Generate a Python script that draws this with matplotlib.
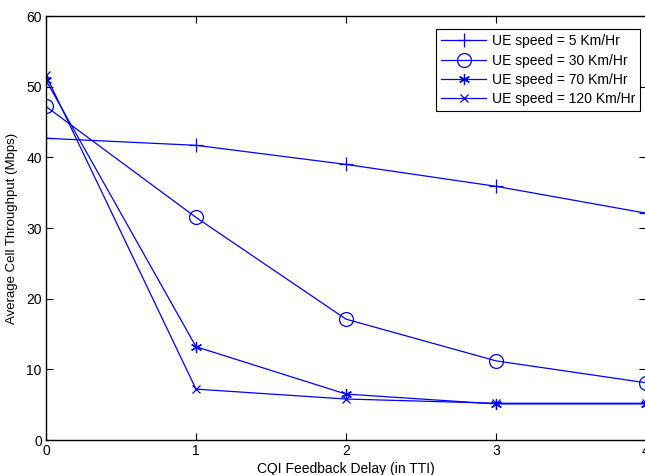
import matplotlib
matplotlib.use("Agg")
import matplotlib.pyplot as plt

plt.rcParams['font.family'] = ['Liberation Sans', 'DejaVu Sans']

delay = [0, 1, 2, 3, 4]
speed_5 = [42.7, 41.7, 39.0, 35.9, 32.1]
speed_30 = [47.2, 31.5, 17.1, 11.2, 8.1]
speed_70 = [50.9, 13.2, 6.5, 5.1, 5.1]
speed_120 = [51.6, 7.2, 5.8, 5.2, 5.2]
labels = ['UE speed = 5 Km/Hr', 'UE speed = 30 Km/Hr',
          'UE speed = 70 Km/Hr', 'UE speed = 120 Km/Hr']
xticks = [0, 1, 2, 3, 4]
yticks = [0, 10, 20, 30, 40, 50, 60]

fig = plt.figure(figsize=(6.45, 4.75), dpi=100)
ax = fig.add_axes([46/645, 35/475, 600/645, 424/475])

blue = (0, 0, 1)
lw = 0.9
ax.plot(delay, speed_5, color=blue, lw=lw, marker='+', markersize=10, markeredgewidth=0.9, label=labels[0])
ax.plot(delay, speed_30, color=blue, lw=lw, marker='o', markersize=10, markerfacecolor='none', markeredgewidth=0.9, label=labels[1])
ax.plot(delay, speed_70, color=blue, lw=lw, marker=(6, 2, 0), markersize=8, markeredgewidth=0.9, label=labels[2])
ax.plot(delay, speed_120, color=blue, lw=lw, marker='x', markersize=6, markeredgewidth=0.9, label=labels[3])

ax.set_xlim(0, 4)
ax.set_ylim(0, 60)
ax.set_xticks(xticks)
ax.set_yticks(yticks)
ax.tick_params(direction='in', top=True, right=True, length=5, width=0.8, labelsize=10, pad=3)
for s in ax.spines.values():
    s.set_linewidth(1.0)
    s.set_color('black')

ax.set_xlabel('CQI Feedback Delay (in TTI)', fontsize=10, labelpad=3)
ax.set_ylabel('Average Cell Throughput (Mbps)', fontsize=9.5, labelpad=6)

leg = ax.legend(loc='upper right', bbox_to_anchor=(0.995, 0.975), fontsize=10, fancybox=False,
                framealpha=1, edgecolor='black', handlelength=3.3, borderpad=0.35,
                labelspacing=0.38, handletextpad=0.4, borderaxespad=0.2)
leg.get_frame().set_linewidth(0.8)

fig.savefig('out.png', dpi=100)
